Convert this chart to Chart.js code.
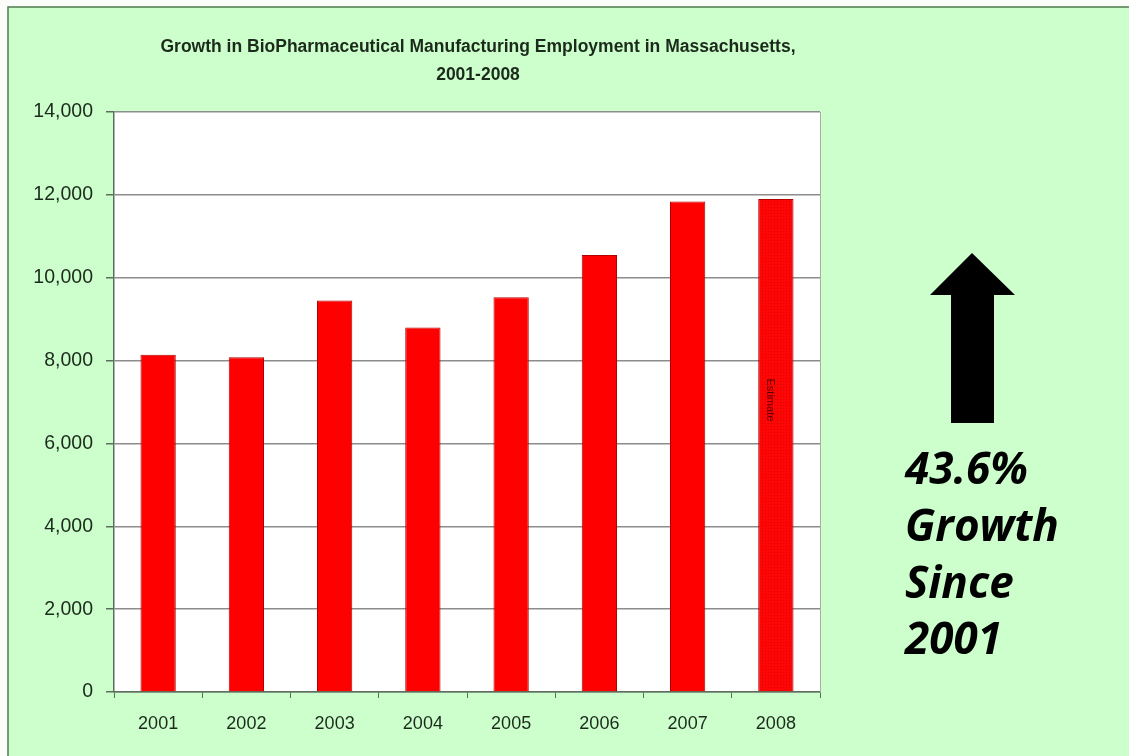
<!DOCTYPE html>
<html>
<head>
<meta charset="utf-8">
<script src="https://cdn.jsdelivr.net/npm/chart.js@4"></script>
<style>
  html, body { margin: 0; padding: 0; background: #ffffff; }
  #wrap { position: relative; width: 1129px; height: 756px; }
</style>
</head>
<body>
<div id="wrap"><canvas id="c" width="1129" height="756"></canvas></div>
<script>
const categories = ['2001', '2002', '2003', '2004', '2005', '2006', '2007', '2008'];
const employment = [8140, 8080, 9450, 8800, 9530, 10550, 11840, 11900];
const estimateIndex = 7;
const yTicks = [0, 2000, 4000, 6000, 8000, 10000, 12000, 14000];
const titleLines = ['Growth in BioPharmaceutical Manufacturing Employment in Massachusetts,', '2001-2008'];
const calloutLines = ['43.6%', 'Growth', 'Since', '2001'];
const estimateLabel = 'Estimate';

function makePattern() {
  const p = document.createElement('canvas');
  p.width = 3; p.height = 3;
  const g = p.getContext('2d');
  g.fillStyle = '#fc0606';
  g.fillRect(0, 0, 3, 3);
  g.fillStyle = '#e00000';
  g.fillRect(0, 0, 1, 1);
  return g.createPattern(p, 'repeat');
}
const ctx0 = document.getElementById('c').getContext('2d');
const pat = makePattern();
const fills = employment.map((v, i) => i === estimateIndex ? pat : '#ff0000');

const decor = {
  id: 'decor',
  beforeDraw(chart) {
    const { ctx, chartArea: a } = chart;
    ctx.save();
    ctx.fillStyle = '#fbfdfb';
    ctx.fillRect(0, 0, chart.width, chart.height);
    ctx.fillStyle = '#ccffcc';
    ctx.fillRect(8, 7, chart.width - 8, chart.height - 7);
    ctx.strokeStyle = '#4f7a4f';
    ctx.lineWidth = 1.5;
    ctx.beginPath();
    ctx.moveTo(8, chart.height);
    ctx.lineTo(8, 7);
    ctx.lineTo(chart.width, 7);
    ctx.stroke();
    ctx.fillStyle = '#ffffff';
    ctx.fillRect(a.left, a.top, a.right - a.left, a.bottom - a.top);
    // title
    ctx.fillStyle = '#1c2a1c';
    ctx.font = 'bold 17.5px "Liberation Sans", Arial, sans-serif';
    ctx.textAlign = 'center';
    ctx.textBaseline = 'middle';
    ctx.fillText(titleLines[0], 478, 47);
    ctx.fillText(titleLines[1], 478, 75);
    ctx.restore();
  },
  afterDatasetsDraw(chart) {
    const { ctx, chartArea: a } = chart;
    const meta = chart.getDatasetMeta(0);
    const bar = meta.data[estimateIndex];
    const ys = chart.scales.y;
    ctx.save();
    // right border of plot
    ctx.strokeStyle = '#a8b0a8';
    ctx.lineWidth = 1;
    ctx.beginPath();
    ctx.moveTo(a.right + 0.5, a.top);
    ctx.lineTo(a.right + 0.5, a.bottom);
    ctx.stroke();
    // Estimate label
    ctx.translate(bar.x - 6, ys.getPixelForValue(7050));
    ctx.rotate(Math.PI / 2);
    ctx.fillStyle = '#5a0000';
    ctx.font = '11px "Liberation Sans", Arial, sans-serif';
    ctx.textAlign = 'center';
    ctx.textBaseline = 'middle';
    ctx.fillText(estimateLabel, 0, 0);
    ctx.restore();

    // arrow
    ctx.save();
    ctx.fillStyle = '#000000';
    ctx.beginPath();
    ctx.moveTo(972, 253);
    ctx.lineTo(1015, 295);
    ctx.lineTo(994, 295);
    ctx.lineTo(994, 423);
    ctx.lineTo(951, 423);
    ctx.lineTo(951, 295);
    ctx.lineTo(930, 295);
    ctx.closePath();
    ctx.fill();
    // callout text
    ctx.font = 'italic bold 44px "Open Sans", sans-serif';
    ctx.textAlign = 'left';
    ctx.textBaseline = 'alphabetic';
    const base = [484, 541, 598, 654];
    calloutLines.forEach((t, i) => ctx.fillText(t, 905, base[i]));
    ctx.restore();
  }
};

new Chart(ctx0, {
  type: 'bar',
  data: {
    labels: categories,
    datasets: [{
      data: employment,
      backgroundColor: fills,
      borderColor: '#b00000',
      borderWidth: 1,
      barPercentage: 0.4,
      categoryPercentage: 1.0
    }]
  },
  options: {
    responsive: false,
    animation: false,
    devicePixelRatio: 1,
    layout: { padding: { left: 0, right: 309, top: 112, bottom: 0 } },
    plugins: { legend: { display: false }, tooltip: { enabled: false }, title: { display: false } },
    scales: {
      x: {
        offset: true,
        grid: { display: true, drawOnChartArea: false, offset: true, tickLength: 6, tickColor: '#5c6e5c', lineWidth: 1 },
        border: { display: true, color: '#5c6e5c', width: 1.5 },
        ticks: { color: '#1c2a1c', font: { family: '"Liberation Sans", Arial, sans-serif', size: 18 }, padding: 15, maxRotation: 0 },
        afterFit(s) { s.height = 64; }
      },
      y: {
        min: 0, max: 14000,
        afterBuildTicks(s) { s.ticks = yTicks.map(v => ({ value: v })); },
        grid: { color: '#8c8c8c', lineWidth: 1.5, tickLength: 8, tickColor: '#5c6e5c', drawTicks: true },
        border: { display: true, color: '#5c6e5c', width: 1.5 },
        ticks: {
          color: '#1c2a1c',
          font: { family: '"Liberation Sans", Arial, sans-serif', size: 19.5 },
          padding: 13,
          callback: v => v.toLocaleString('en-US')
        },
        afterFit(s) { s.width = 114; }
      }
    }
  },
  plugins: [decor]
});
</script>
</body>
</html>
